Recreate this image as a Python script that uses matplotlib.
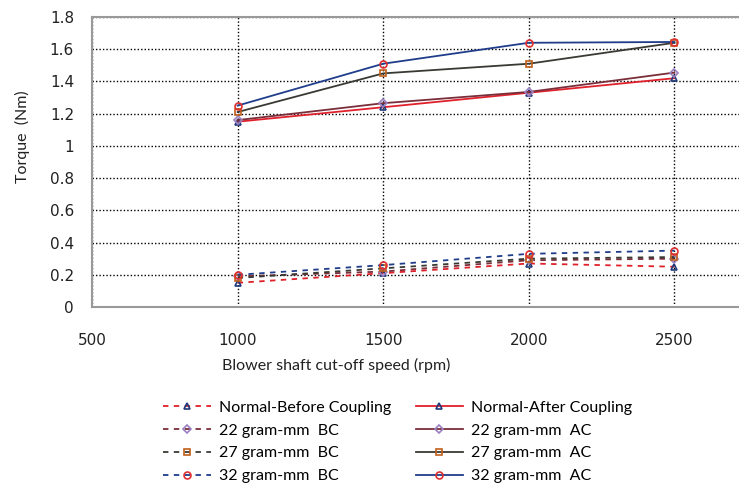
import matplotlib
matplotlib.use("Agg")
import matplotlib.pyplot as plt
from matplotlib.ticker import FuncFormatter

# speeds (rpm)
speed = [1000, 1500, 2000, 2500]

# torque before coupling (Nm)
normal_bc = [0.15, 0.21, 0.27, 0.25]
g22_bc = [0.19, 0.22, 0.29, 0.30]
g27_bc = [0.18, 0.24, 0.30, 0.31]
g32_bc = [0.20, 0.26, 0.33, 0.35]

# torque after coupling (Nm)
normal_ac = [1.15, 1.24, 1.33, 1.42]
g22_ac = [1.16, 1.265, 1.335, 1.455]
g27_ac = [1.21, 1.45, 1.51, 1.64]
g32_ac = [1.25, 1.51, 1.64, 1.645]

labels_bc = ["Normal-Before Coupling", "22 gram-mm  BC", "27 gram-mm  BC", "32 gram-mm  BC"]
labels_ac = ["Normal-After Coupling", "22 gram-mm  AC", "27 gram-mm  AC", "32 gram-mm  AC"]

line_colors = ["#E0202A", "#7A2E3A", "#3A3A34", "#1F3D8A"]
marker_styles = [("^", "#1F3A7A"), ("D", "#9A80C0"), ("s", "#C0601A"), ("o", "#E03030")]

fig = plt.figure(figsize=(7.39, 4.92), dpi=100)
ax = fig.add_axes([92 / 739, 1 - 307 / 492, 1 - 92 / 739, 290 / 492])

handles_bc, handles_ac = [], []
for vals, lab, col, (mk, mc) in zip([normal_bc, g22_bc, g27_bc, g32_bc], labels_bc,
                                     line_colors, marker_styles):
    h, = ax.plot(speed, vals, ls=(0, (3, 3)), lw=1.3, color=col, marker=mk,
                 ms=3.8 if mk == "D" else 5, mfc="none", mec=mc, mew=1.2, label=lab)
    handles_bc.append(h)
for vals, lab, col, (mk, mc) in zip([normal_ac, g22_ac, g27_ac, g32_ac], labels_ac,
                                     line_colors, marker_styles):
    h, = ax.plot(speed, vals, ls="-", lw=1.3, color=col, marker=mk,
                 ms=3.8 if mk == "D" else 5, mfc="none", mec=mc, mew=1.2, label=lab)
    handles_ac.append(h)

ax.set_xlim(500, 500 + (739 - 92) / 145.6 * 500)
ax.set_ylim(0, 1.8)
ax.set_xticks([500, 1000, 1500, 2000, 2500])
ax.set_yticks([0, 0.2, 0.4, 0.6, 0.8, 1.0, 1.2, 1.4, 1.6, 1.8])
ax.yaxis.set_major_formatter(FuncFormatter(lambda v, p: f"{v:g}"))
ax.grid(True, color="black", ls=(0, (1, 1.5)), lw=1)
ax.set_axisbelow(True)
ax.tick_params(length=0, labelsize=11, colors="#222222")
ax.tick_params(axis="x", pad=19)
ax.tick_params(axis="y", pad=13)
for s in ["left", "top", "bottom"]:
    ax.spines[s].set_color("#999999")
    ax.spines[s].set_linewidth(1.5)
ax.spines["right"].set_visible(False)

lab_font = "Lato"
fig.text(336 / 739, 1 - 365 / 492, "Blower shaft cut-off speed (rpm)", ha="center",
         va="center", fontsize=11.5, family=lab_font, color="#222222")
fig.text(22 / 739, 1 - 137 / 492, "Torque  (Nm)", ha="center", va="center",
         rotation=90, fontsize=11.5, family=lab_font, color="#222222")

fig.legend(handles_bc + handles_ac, labels_bc + labels_ac, ncol=2,
           loc="upper left", bbox_to_anchor=(157 / 739, 1 - 394 / 492),
           frameon=False, prop={"family": lab_font, "size": 11.5},
           handlelength=3.0, handletextpad=0.5, columnspacing=1.5,
           labelspacing=0.55, borderaxespad=0)

fig.savefig("out.png", dpi=100)
